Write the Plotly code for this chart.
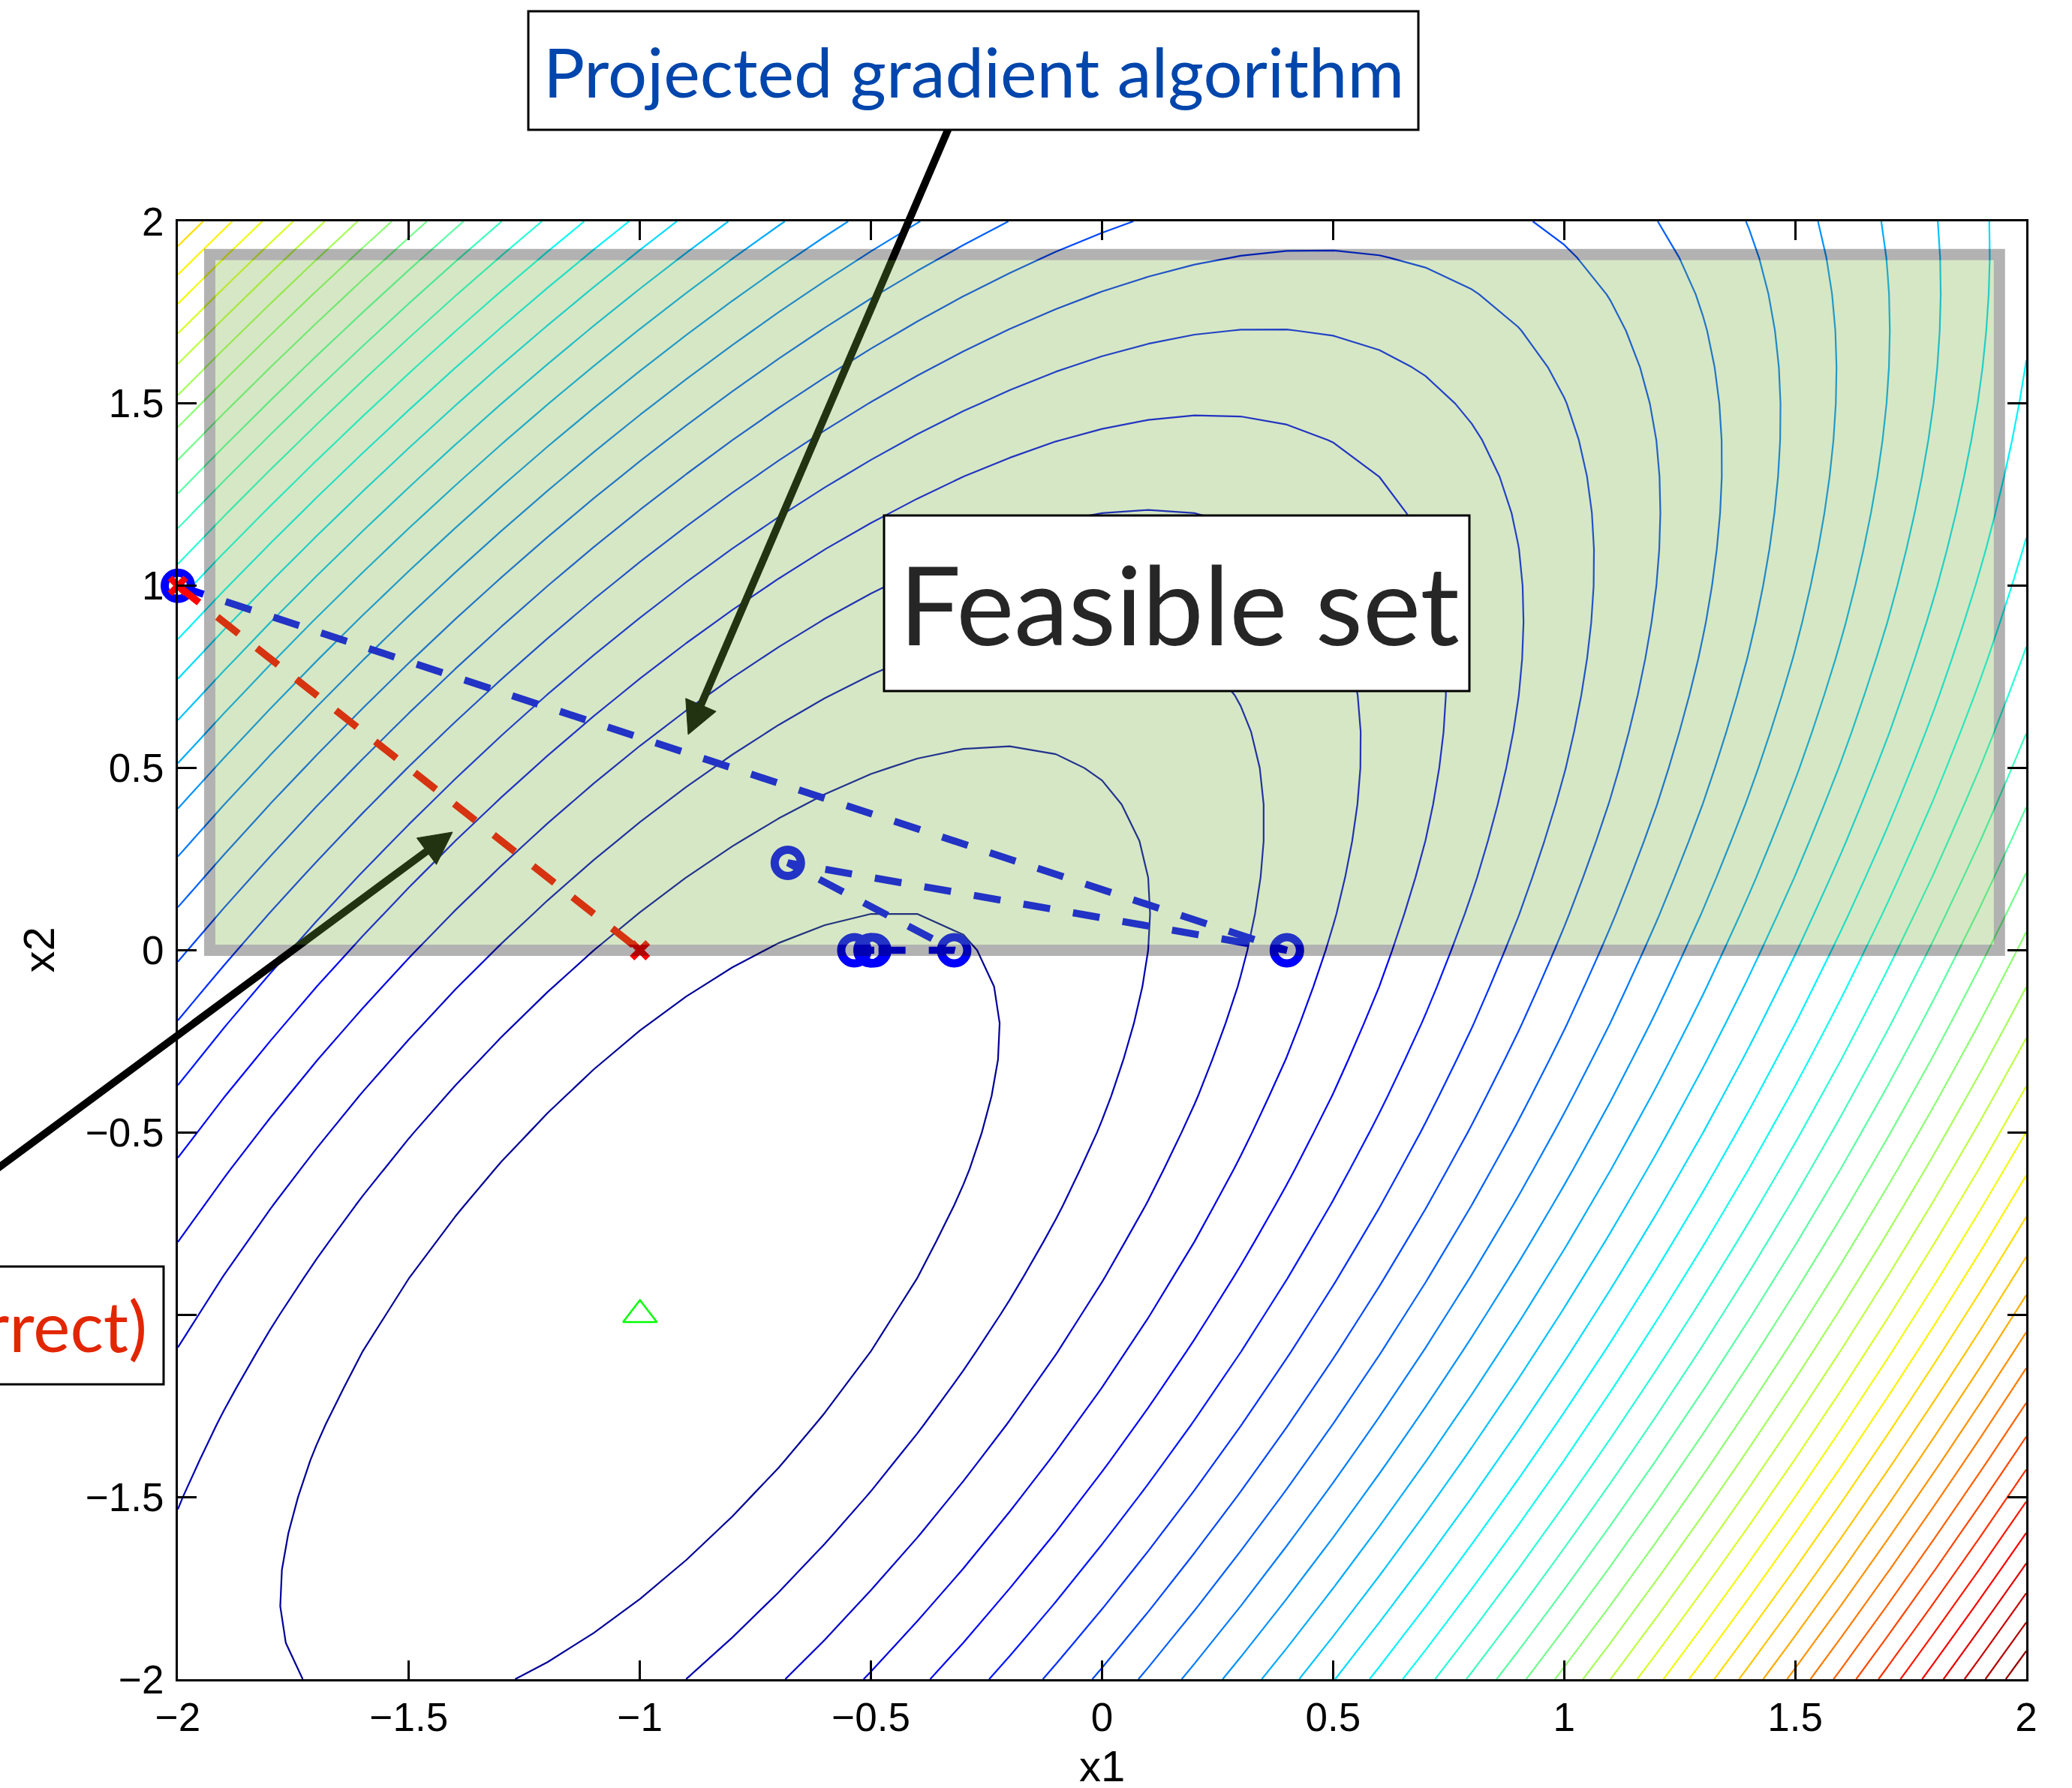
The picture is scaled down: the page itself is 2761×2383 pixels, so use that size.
import numpy as np
import plotly.graph_objects as go

# ---------------- data ----------------
grid_x = [round(-2 + 0.1 * i, 1) for i in range(41)]
grid_y = [round(-2 + 0.1 * i, 1) for i in range(41)]
x_star = [-1.0, -1.0]                 # unconstrained minimiser (green triangle)
hess = [[2.0, -1.0], [-1.0, 1.0]]     # quadratic objective 0.5*d'Hd, d = x - x_star
n_levels = 40

pg_x = [-2.0, 0.4, -0.68, -0.32, -0.536, -0.493, -0.501, -0.4997]   # projected gradient
pg_y = [1.0, 0.0, 0.24, 0.0, 0.0, 0.0, 0.0, 0.0]
bad_x = [-2.0, -1.0]                                              # incorrect variant
bad_y = [1.0, 0.0]

feas_x = [-1.931, 1.942]
feas_y = [0.0, 1.909]

tick_vals = [-2, -1.5, -1, -0.5, 0, 0.5, 1, 1.5, 2]
tick_text = ["\u22122", "\u22121.5", "\u22121", "\u22120.5", "0", "0.5", "1", "1.5", "2"]

# ---------------- geometry ----------------
W, H = 2761, 2383
ML, MR, MT, MB = 237, 61, 295, 145
PW, PH = W - ML - MR, H - MT - MB


def xpap(px):
    return (px - ML) / PW


def ypap(py):
    return (H - MB - py) / PH


def jet(t):
    t = min(max(t, 0.0), 1.0)
    r = min(max(1.5 - abs(4 * t - 3), 0), 1)
    g = min(max(1.5 - abs(4 * t - 2), 0), 1)
    b = min(max(1.5 - abs(4 * t - 1), 0), 1)
    return "rgb(%d,%d,%d)" % (round(r * 255), round(g * 255), round(b * 255))


gx = np.array(grid_x)
gy = np.array(grid_y)
X, Y = np.meshgrid(gx, gy)
D1 = X - x_star[0]
D2 = Y - x_star[1]
Z = 0.5 * (hess[0][0] * D1 ** 2 + 2 * hess[0][1] * D1 * D2 + hess[1][1] * D2 ** 2)
zmin, zmax = float(Z.min()), float(Z.max())
step = (zmax - zmin) / (n_levels + 1)
lev_start = zmin + step
lev_end = zmin + n_levels * step
cscale = []
for k in range(41):
    p = k / 40
    L = lev_start + p * (lev_end - lev_start)
    cscale.append([p, jet((L - zmin) / (zmax - zmin))])

fig = go.Figure()
fig.add_trace(go.Contour(
    x=gx, y=gy, z=Z, autocontour=False,
    contours=dict(start=lev_start, end=lev_end + step * 0.01, size=step, coloring="lines"),
    colorscale=cscale, showscale=False, line=dict(width=2.2, smoothing=0),
    hoverinfo="skip",
))
fig.add_trace(go.Scatter(
    x=pg_x, y=pg_y, mode="lines+markers", cliponaxis=False,
    line=dict(color="rgb(0,0,255)", width=9.5, dash="36px,31px"),
    marker=dict(symbol="circle-open", size=35, color="rgb(0,0,255)", line=dict(width=11, color="rgb(0,0,255)")),
))
fig.add_trace(go.Scatter(
    x=bad_x, y=bad_y, mode="lines+markers", cliponaxis=False,
    line=dict(color="rgb(255,0,0)", width=9.5, dash="36px,31px"),
    marker=dict(symbol="x-thin-open", size=21, color="rgb(255,0,0)", line=dict(width=8.5, color="rgb(255,0,0)")),
))
fig.add_trace(go.Scatter(
    x=[x_star[0]], y=[x_star[1]], mode="markers", cliponaxis=False,
    marker=dict(symbol="triangle-up-open", size=39, color="rgb(0,255,0)", line=dict(width=2.5, color="rgb(0,255,0)")),
))

shapes = []


def arrow(tail, tip, head_len=43, head_w=44, width=10):
    tx, ty = tail
    hx, hy = tip
    dx, dy = hx - tx, hy - ty
    n = (dx * dx + dy * dy) ** 0.5
    dx, dy = dx / n, dy / n
    bx, by = hx - head_len * dx, hy - head_len * dy
    nx, ny = -dy, dx
    shapes.append(dict(type="line", xref="paper", yref="paper", layer="above",
                       x0=xpap(tx), y0=ypap(ty), x1=xpap(bx + 4 * dx), y1=ypap(by + 4 * dy),
                       line=dict(color="black", width=width)))
    c1 = (bx + nx * head_w / 2, by + ny * head_w / 2)
    c2 = (bx - nx * head_w / 2, by - ny * head_w / 2)
    path = "M %f %f L %f %f L %f %f Z" % (xpap(hx), ypap(hy), xpap(c1[0]), ypap(c1[1]), xpap(c2[0]), ypap(c2[1]))
    shapes.append(dict(type="path", xref="paper", yref="paper", layer="above", path=path,
                       fillcolor="black", line=dict(color="black", width=1)))


arrow((1264, 171), (917, 979))
arrow((-180, 1688), (603, 1109))

# feasible set: translucent fill (inset by half border) + translucent border
bw = 15
ix = (bw / 2) / (PW / 4)
iy = (bw / 2) / (PH / 4)
shapes.append(dict(type="rect", xref="x", yref="y", layer="above",
                   x0=feas_x[0] + ix, x1=feas_x[1] - ix, y0=feas_y[0] + iy, y1=feas_y[1] - iy,
                   fillcolor="rgba(116,174,58,0.294)", line=dict(width=0)))
shapes.append(dict(type="rect", xref="x", yref="y", layer="above",
                   x0=feas_x[0], x1=feas_x[1], y0=feas_y[0], y1=feas_y[1],
                   fillcolor="rgba(0,0,0,0)", line=dict(color="rgba(0,0,0,0.3)", width=bw)))


def box(px0, py0, px1, py1):
    shapes.append(dict(type="rect", xref="paper", yref="paper", layer="above",
                       x0=xpap(px0), x1=xpap(px1), y0=ypap(py1), y1=ypap(py0),
                       fillcolor="white", line=dict(color="black", width=3)))


box(704, 15, 1890, 173)
box(1178, 687, 1958, 921)
box(-400, 1688, 218, 1845)

annotations = [
    dict(text="Projected gradient algorithm", xref="paper", yref="paper", x=xpap(1297), y=ypap(94),
         xanchor="center", yanchor="middle", showarrow=False,
         font=dict(family="Lato", size=92, color="rgb(0,70,172)")),
    dict(text="Feasible set", xref="paper", yref="paper", x=xpap(1571), y=ypap(803),
         xanchor="center", yanchor="middle", showarrow=False,
         font=dict(family="Lato", size=146, color="rgb(38,38,38)")),
    dict(text="Projected gradient (incorrect)", xref="paper", yref="paper", x=xpap(198), y=ypap(1766),
         xanchor="right", yanchor="middle", showarrow=False,
         font=dict(family="Lato", size=93, color="rgb(226,38,0)")),
    dict(text="x1", xref="paper", yref="paper", x=0.5, y=ypap(2353),
         xanchor="center", yanchor="middle", showarrow=False,
         font=dict(family="Liberation Sans", size=58, color="black")),
    dict(text="x2", xref="paper", yref="paper", x=xpap(51), y=0.5, textangle=-90,
         xanchor="center", yanchor="middle", showarrow=False,
         font=dict(family="Liberation Sans", size=58, color="black")),
]

axis_common = dict(range=[-2, 2], tickvals=tick_vals, ticktext=tick_text, ticks="inside",
                   ticklen=25, tickwidth=2.5, tickcolor="black", showline=True, linecolor="black",
                   linewidth=2.7, mirror="ticks", showgrid=False, zeroline=False,
                   tickfont=dict(family="Liberation Sans", size=53, color="black"))

fig.update_layout(
    width=W, height=H, autosize=False,
    margin=dict(l=ML, r=MR, t=MT, b=MB),
    plot_bgcolor="white", paper_bgcolor="white", showlegend=False,
    xaxis=dict(**axis_common, ticklabelstandoff=3),
    yaxis=dict(**axis_common, ticklabelstandoff=5),
    shapes=shapes, annotations=annotations,
)

fig.write_html("out.html", config={"displayModeBar": False},
               post_script="document.body.style.margin='0px';document.body.style.overflow='hidden';")
